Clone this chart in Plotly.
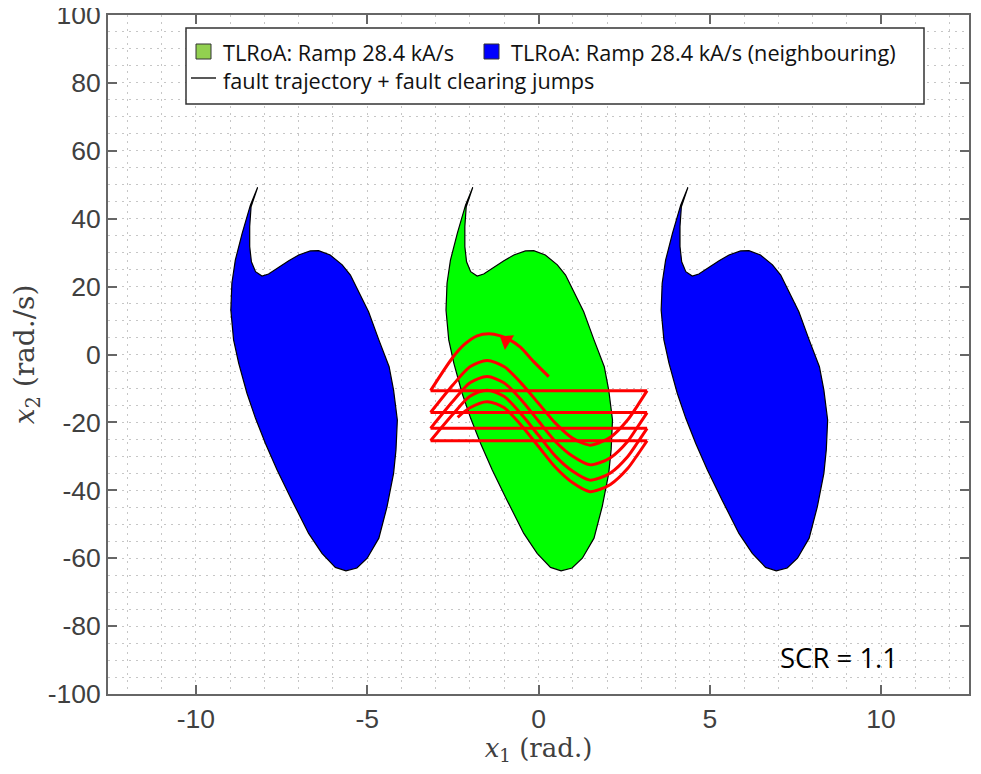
import plotly.graph_objects as go

# region outline (middle lobe)
green_x = [-1.92, -2.13, -2.37, -2.57, -2.67, -2.70, -2.62, -2.47, -2.23, -1.98, -1.69, -1.35,
           -0.92, -0.43, -0.04, 0.35, 0.66, 0.98, 1.28, 1.62, 1.86, 2.05, 2.12, 2.16, 2.05, 1.92,
           1.62, 1.32, 0.79, 0.55, 0.20, -0.14, -0.38, -0.72, -1.01, -1.35, -1.60, -1.79, -1.98,
           -2.10, -2.15, -2.15, -2.11, -1.92]
green_y = [49.2, 44.0, 35.7, 27.8, 21.0, 13.1, 4.3, -2.6, -11.4, -18.8, -26.2, -34.0,
           -42.9, -52.7, -58.6, -62.7, -63.7, -62.9, -60.0, -54.1, -44.8, -35.0, -28.1, -19.3, -10.5, -3.6,
           4.3, 12.6, 23.4, 26.4, 29.3, 30.6, 30.5, 29.3, 27.6, 25.4, 23.7, 23.1, 24.4,
           27.3, 31.8, 37.7, 43.5, 49.2]
# neighbouring lobes
blue_left_x = [-8.20, -8.41, -8.65, -8.85, -8.95, -8.98, -8.90, -8.75, -8.51, -8.26, -7.97, -7.63,
               -7.20, -6.71, -6.32, -5.93, -5.62, -5.30, -5.00, -4.66, -4.42, -4.23, -4.16, -4.12, -4.23, -4.36,
               -4.66, -4.96, -5.49, -5.73, -6.08, -6.42, -6.66, -7.00, -7.29, -7.63, -7.88, -8.07, -8.26,
               -8.38, -8.43, -8.43, -8.39, -8.20]
blue_right_x = [4.36, 4.15, 3.91, 3.71, 3.61, 3.58, 3.66, 3.81, 4.05, 4.30, 4.59, 4.93,
                5.36, 5.85, 6.24, 6.63, 6.94, 7.26, 7.56, 7.90, 8.14, 8.33, 8.40, 8.44, 8.33, 8.20,
                7.90, 7.60, 7.07, 6.83, 6.48, 6.14, 5.90, 5.56, 5.27, 4.93, 4.68, 4.49, 4.30,
                4.18, 4.13, 4.13, 4.17, 4.36]

# red trajectory, one list per swing between the clearing jumps
arc0_x = [0.30, -0.14, -0.53, -0.85, -1.11, -1.45, -1.79, -2.18, -2.52, -3.15]
arc0_y = [-6.5, -2.1, 2.2, 4.4, 5.5, 6.1, 5.5, 2.8, -1.1, -10.65]
arc_x = [3.17, 2.9, 2.6, 2.1, 1.8, 1.5, 1.0, 0.5, 0.0, -0.5, -1.0, -1.5, -2.0, -2.5, -3.15]
arc1_y = [-10.65, -14.9, -19.3, -24.4, -25.9, -26.7, -24.7, -20.3, -14.4, -8.5, -3.6, -1.8, -3.6, -9.0, -17.1]
arc2_y = [-17.1, -21.2, -25.6, -30.4, -31.8, -32.5, -30.0, -25.7, -19.6, -13.4, -8.4, -6.5, -8.3, -13.8, -21.75]
arc3_y = [-21.75, -25.8, -30.1, -34.9, -36.3, -37.0, -34.4, -30.0, -23.8, -17.6, -12.4, -10.5, -12.3, -17.6, -25.4]
arc4_x = [3.17, 2.9, 2.6, 2.1, 1.8, 1.5, 1.0, 0.5, 0.0, -0.5, -1.0, -1.5, -2.0, -2.36]
arc4_y = [-25.4, -29.4, -33.6, -38.3, -39.7, -40.4, -37.8, -33.3, -27.1, -20.9, -15.7, -13.9, -15.7, -18.5]
jump_x = [-3.15, 3.17]
jump_y = [-10.65, -17.1, -21.75, -25.4]
arrow_x = [-0.94]
arrow_y = [4.1]

x_ticks = [-10, -5, 0, 5, 10]
y_ticks = [-100, -80, -60, -40, -20, 0, 20, 40, 60, 80, 100]

# page has an 8px body margin, so the figure sits inside it
PAGE = 8
W, H = 981 - 2 * PAGE, 774 - 2 * PAGE
L, R, T, B = 108 - PAGE, 969 - PAGE, 15 - PAGE, 694 - PAGE
TICK_COL = '#404040'
GRID_COL = '#c6c6c6'
DOTS = '2px,5px'
RED = '#ff0000'


def px(x):
    return (x - PAGE - L) / (R - L)


def py(y):
    return (B - (y - PAGE)) / (B - T)


fig = go.Figure()
for xs, col in [(blue_left_x, '#0000ff'), (blue_right_x, '#0000ff'), (green_x, '#00ff00')]:
    fig.add_trace(go.Scatter(x=xs, y=green_y, mode='lines', fill='toself', fillcolor=col,
                             line=dict(color='black', width=1.2), showlegend=False))

for xs, ys in [(arc0_x, arc0_y), (arc_x, arc1_y), (arc_x, arc2_y), (arc_x, arc3_y), (arc4_x, arc4_y)]:
    fig.add_trace(go.Scatter(x=xs, y=ys, mode='lines', showlegend=False,
                             line=dict(color=RED, width=3, shape='spline', smoothing=0.8)))
for y in jump_y:
    fig.add_trace(go.Scatter(x=jump_x, y=[y, y], mode='lines', showlegend=False,
                             line=dict(color=RED, width=3)))
fig.add_trace(go.Scatter(x=arrow_x, y=arrow_y, mode='markers', showlegend=False,
                         marker=dict(symbol='triangle-up', size=15, angle=-58, color=RED,
                                     line=dict(width=0))))

# hand placed legend box, the swatch colour differs from the fill
shapes = [
    dict(type='rect', xref='paper', yref='paper', x0=px(186), x1=px(924), y0=py(28), y1=py(104),
         fillcolor='white', line=dict(color='#333333', width=1.5)),
    dict(type='rect', xref='paper', yref='paper', x0=px(196), x1=px(211), y0=py(44), y1=py(59),
         fillcolor='#92d050', line=dict(color='#333333', width=1)),
    dict(type='rect', xref='paper', yref='paper', x0=px(484), x1=px(499), y0=py(44), y1=py(59),
         fillcolor='#0000ff', line=dict(color='#333333', width=1)),
    dict(type='line', xref='paper', yref='paper', x0=px(191), x1=px(216), y0=py(78), y1=py(78),
         line=dict(color='#222222', width=1.5)),
]
LEG_FONT = dict(family='Open Sans', size=21.7, color='#111111')
annotations = [
    dict(text='TLRoA: Ramp 28.4 kA/s', x=px(221), y=py(52), font=LEG_FONT),
    dict(text='TLRoA: Ramp 28.4 kA/s (neighbouring)', x=px(509), y=py(52), font=LEG_FONT),
    dict(text='fault trajectory + fault clearing jumps', x=px(221), y=py(81), font=LEG_FONT),
    dict(text='SCR = 1.1', x=px(778), y=py(657), font=dict(family='Open Sans', size=27.5, color='black')),
]
for a in annotations:
    a.update(xref='paper', yref='paper', xanchor='left', yanchor='middle', showarrow=False)

axis = dict(showline=True, linecolor='#666666', linewidth=2, mirror='ticks', ticks='inside',
            ticklen=9, tickwidth=1.5, tickcolor='#666666', zeroline=False, showgrid=True,
            gridcolor=GRID_COL, griddash=DOTS, gridwidth=1, ticklabeloverflow='allow', automargin=False,
            tickfont=dict(family='Liberation Sans', size=26.5, color=TICK_COL))
fig.update_xaxes(axis, range=[-12.566, 12.566], tickvals=x_ticks, ticktext=[str(v) for v in x_ticks],
                 title=dict(text='<i>x</i><sub>1</sub> (rad.)', standoff=16,
                            font=dict(family='DejaVu Serif', size=26, color=TICK_COL)),
                 minor=dict(dtick=1, showgrid=True, gridcolor=GRID_COL, griddash=DOTS, gridwidth=1))
fig.update_yaxes(axis, range=[-100, 100], tickvals=y_ticks, ticktext=[str(v) for v in y_ticks],
                 title=dict(text='<i>x</i><sub>2</sub> (rad./s)', standoff=18,
                            font=dict(family='DejaVu Serif', size=28, color=TICK_COL)),
                 minor=dict(dtick=5, showgrid=True, gridcolor=GRID_COL, griddash=DOTS, gridwidth=1))
fig.update_layout(width=W, height=H, margin=dict(l=L, r=W - R, t=T, b=H - B, pad=0),
                  paper_bgcolor='white', plot_bgcolor='white', shapes=shapes, annotations=annotations)

fig.write_html("out.html")
